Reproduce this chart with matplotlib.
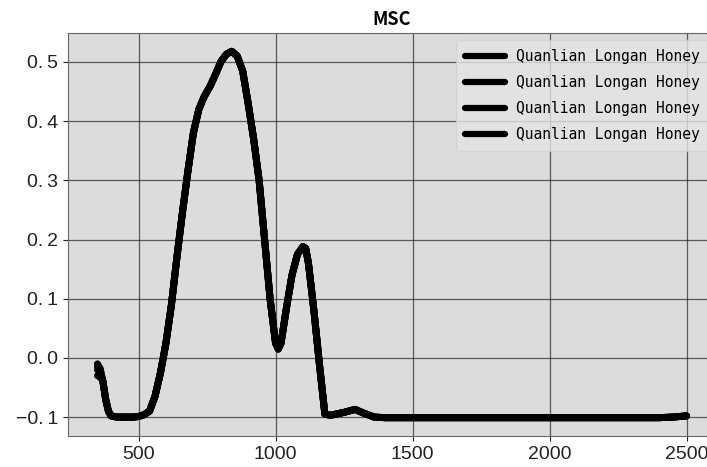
import matplotlib
matplotlib.use("Agg")
import matplotlib.pyplot as plt
from matplotlib.ticker import FuncFormatter, MultipleLocator

wavelength = [350, 360, 370, 380, 390, 400, 420, 450, 480, 500, 520, 540, 560, 580,
              600, 620, 640, 660, 680, 700, 720, 740, 760, 780, 800, 820, 840, 860,
              880, 900, 920, 940, 960, 980, 1000, 1010, 1020, 1040, 1060, 1080, 1100,
              1110, 1120, 1140, 1160, 1180, 1200, 1250, 1290, 1320, 1360, 1400, 1500,
              1600, 1700, 1800, 1900, 2000, 2100, 2200, 2300, 2400, 2450, 2500]

base = [-0.015, -0.02, -0.04, -0.07, -0.09, -0.098, -0.1, -0.1, -0.1, -0.099, -0.096,
        -0.09, -0.065, -0.025, 0.025, 0.09, 0.17, 0.245, 0.315, 0.38, 0.42, 0.442, 0.458,
        0.478, 0.50, 0.513, 0.518, 0.51, 0.485, 0.43, 0.37, 0.30, 0.20, 0.10, 0.025,
        0.015, 0.025, 0.085, 0.14, 0.175, 0.188, 0.185, 0.16, 0.08, -0.01, -0.095,
        -0.097, -0.092, -0.087, -0.093, -0.1, -0.101, -0.101, -0.101, -0.101, -0.101,
        -0.101, -0.101, -0.101, -0.101, -0.101, -0.101, -0.1, -0.098]

series_a = base
series_b = [-0.03, -0.032] + base[2:]
series_c = [-0.02, -0.025] + base[2:]
series_d = [-0.01, -0.018] + base[2:]
all_series = [series_a, series_b, series_c, series_d]
labels = ["Quanlian Longan Honey"] * 4

fig = plt.figure(figsize=(7.07, 4.67), dpi=100)
ax = fig.add_axes([68/707, 31/467, 648/707, 403/467])
ax.set_facecolor("#dcdcdc")
for s, lab in zip(all_series, labels):
    ax.plot(wavelength, s, color="black", linewidth=5.0, label=lab,
            solid_joinstyle="round", solid_capstyle="round")

ax.grid(True, color="#222222", linewidth=0.9, alpha=0.7)
ax.set_axisbelow(True)
for sp in ax.spines.values():
    sp.set_color("#666666")

ax.xaxis.set_major_locator(MultipleLocator(500))
ax.yaxis.set_major_locator(MultipleLocator(0.1))
ax.yaxis.set_major_formatter(FuncFormatter(
    lambda v, p: (f"{v:.1f}").replace("-", "\u2212").replace(".", ".\u2009")))
ax.tick_params(labelsize=14, colors="#222222")

ax.set_title("MSC", fontsize=13, fontweight="bold",
             fontfamily=["Noto Sans CJK SC", "DejaVu Sans"], pad=6)
leg = ax.legend(loc="upper right", prop={"family": "DejaVu Sans Mono", "size": 10.5},
                handlelength=2.7, labelspacing=0.75, borderpad=0.6,
                facecolor="#e4e4e4", framealpha=0.8)
for h in leg.get_lines():
    h.set_linewidth(4.5)
leg.get_frame().set_edgecolor("#cfcfcf")
plt.setp(ax.get_yticklabels(), fontfamily=["Liberation Sans", "DejaVu Sans"])
plt.setp(ax.get_xticklabels(), fontfamily=["Liberation Sans", "DejaVu Sans"])

fig.savefig("out.png", dpi=100)
